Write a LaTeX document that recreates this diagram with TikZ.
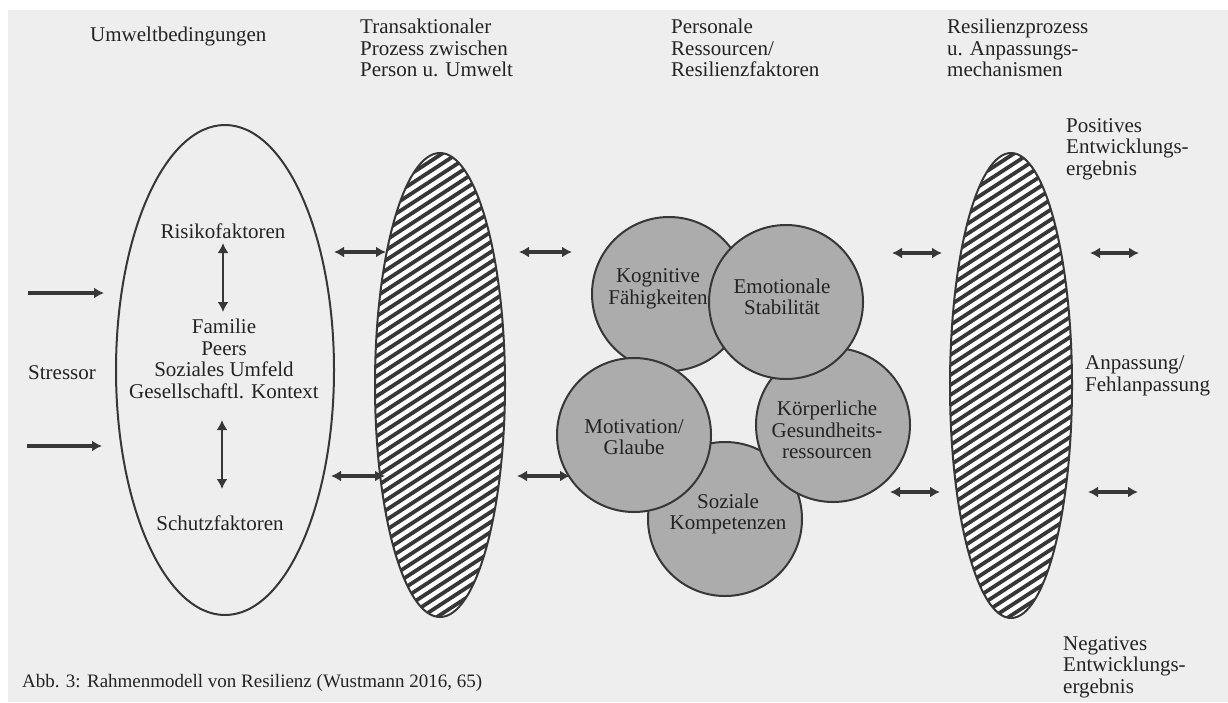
\documentclass[tikz,border=0pt]{standalone}
\usepackage{fontspec}
\setmainfont{Liberation Serif}
\usetikzlibrary{shapes.geometric,arrows.meta,calc}
\definecolor{bgc}{RGB}{238,238,238}
\definecolor{ink}{RGB}{35,35,35}
\definecolor{linec}{RGB}{55,55,55}
\definecolor{circfill}{RGB}{172,172,172}
\begin{document}
\begin{tikzpicture}[x=1pt,y=-1pt,
  txt/.style={inner sep=0pt, text=ink, font=\fontsize{21}{21.5}\selectfont, align=center},
  ltxt/.style={txt, align=left, anchor=west},
  envshape/.style={ellipse, draw=linec, line width=2pt, inner sep=0pt},
  hatched/.style={ellipse, draw=linec, line width=2pt, fill=white, inner sep=0pt,
    path picture={\foreach \k in {-34,...,34}{\draw[line width=3.8pt, linec]
      ($(path picture bounding box.center)+(-160,\k*10+104)$) -- ++(320,-208);}}},
  res/.style={circle, draw=linec, line width=2pt, fill=circfill, minimum size=154pt, inner sep=0pt},
  dbl/.style={{Latex[length=10pt,width=11pt]}-{Latex[length=10pt,width=11pt]}, line width=3.4pt, draw=linec},
  sgl/.style={-{Latex[length=10pt,width=11pt]}, line width=3.4pt, draw=linec},
]
\useasboundingbox (0,0) rectangle (1228,702);
\fill[white] (0,0) rectangle (1228,702);
\fill[bgc] (8,10) rectangle (1228,702);

% headers
\node[ltxt] (h1) at (90,36) {Umweltbedingungen};
\node[ltxt] (h2) at (360,48) {Transaktionaler\\Prozess zwischen\\Person u. Umwelt};
\node[ltxt] (h3) at (671,48) {Personale\\Ressourcen/\\Resilienzfaktoren};
\node[ltxt] (h4) at (947,48) {Resilienzprozess\\u. Anpassungs-\\mechanismen};

% environment ellipse
\node[envshape, minimum width=218pt, minimum height=490pt] (env) at (225,370) {};
\node[ltxt] (stressor) at (28,373) {Stressor};
\node[txt] (risk) at (223,231) {Risikofaktoren};
\node[txt] (fam) at (224,359) {Familie\\Peers\\Soziales Umfeld\\Gesellschaftl. Kontext};
\node[txt] (schutz) at (220,523) {Schutzfaktoren};

\coordinate (s1a) at (28,293); \coordinate (s1b) at (104,293);
\coordinate (s2a) at (27,446); \coordinate (s2b) at (102,446);
\draw[sgl] (s1a) -- (s1b);
\draw[sgl] (s2a) -- (s2b);

\coordinate (v1a) at (223,243); \coordinate (v1b) at (223,312);
\coordinate (v2a) at (222,420); \coordinate (v2b) at (222,489);
\draw[dbl, line width=2.8pt] (v1a) -- (v1b);
\draw[dbl, line width=2.8pt] (v2a) -- (v2b);

% transactional hatched ellipse
\node[hatched, minimum width=130pt, minimum height=464pt] (trans) at (440,385) {};
\coordinate (a1a) at (334,252); \coordinate (a1b) at (386,252);
\coordinate (a2a) at (331,476); \coordinate (a2b) at (385,476);
\draw[dbl] (a1a) -- (a1b);
\draw[dbl] (a2a) -- (a2b);
\coordinate (b1a) at (519,252); \coordinate (b1b) at (572,252);
\coordinate (b2a) at (517,476); \coordinate (b2b) at (570,476);
\draw[dbl] (b1a) -- (b1b);
\draw[dbl] (b2a) -- (b2b);

% resource circles
\node[res] (kog) at (669,294) {};
\node[res] (soz) at (725,519) {};
\node[res] (koe) at (833,425) {};
\node[res] (emo) at (786,302) {};
\node[res] (mot) at (634,435) {};
\node[txt] (kogt) at (658,289) {Kognitive\\Fähigkeiten};
\node[txt] (emot) at (782,297) {Emotionale\\Stabilität};
\node[txt] (mott) at (634,437) {Motivation/\\Glaube};
\node[txt] (koet) at (827,430) {Körperliche\\Gesundheits-\\ressourcen};
\node[txt] (sozt) at (728,514) {Soziale\\Kompetenzen};

% resilience process hatched ellipse
\node[hatched, minimum width=122pt, minimum height=465pt] (proc) at (1011,385.5) {};
\coordinate (c1a) at (892,253); \coordinate (c1b) at (942,253);
\coordinate (c2a) at (890,492); \coordinate (c2b) at (940,492);
\draw[dbl] (c1a) -- (c1b);
\draw[dbl] (c2a) -- (c2b);
\coordinate (d1a) at (1090,253); \coordinate (d1b) at (1139,253);
\coordinate (d2a) at (1088,492); \coordinate (d2b) at (1138,492);
\draw[dbl] (d1a) -- (d1b);
\draw[dbl] (d2a) -- (d2b);

\node[ltxt] (pos) at (1066,149) {Positives\\Entwicklungs-\\ergebnis};
\node[ltxt] (anp) at (1085,376) {Anpassung/\\Fehlanpassung};
\node[ltxt] (neg) at (1063,667) {Negatives\\Entwicklungs-\\ergebnis};

% caption
\node[ltxt, font=\fontsize{19}{20}\selectfont] (cap) at (22,683) {Abb. 3: Rahmenmodell von Resilienz (Wustmann 2016, 65)};
\end{tikzpicture}
\end{document}
